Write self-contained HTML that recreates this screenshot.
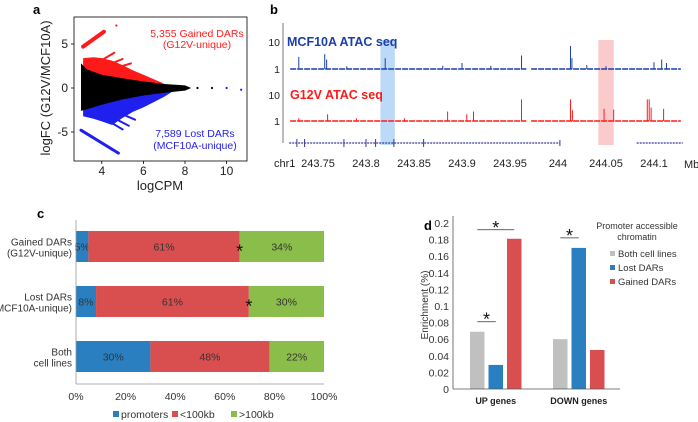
<!DOCTYPE html>
<html><head><meta charset="utf-8"><style>
html,body{margin:0;padding:0;background:#fff}
svg{display:block;font-family:"Liberation Sans",Arial,sans-serif}
</style></head><body>
<svg id="fig" width="698" height="422" viewBox="0 0 698 422" xmlns="http://www.w3.org/2000/svg">
<g id="pa"></g>
<g id="pb"></g>
<g id="pc"></g>
<g id="pd"></g>
</svg>
<script>
// ---------- Panel a data (logCPM, logFC) ----------
const aRedRegion=[[3.1,0.8],[3.1,3.4],[3.6,3.5],[4,3.4],[4.5,3.1],[5,2.6],[5.5,2.0],[6,1.5],[6.5,1.0],[7,0.5]];
const aBlueRegion=[[3.1,-0.8],[3.1,-3.2],[3.6,-3.5],[4,-3.8],[4.5,-4.2],[5,-3.4],[5.5,-2.7],[6,-2.2],[6.5,-1.6],[7,-1.0],[7.4,-0.4]];
const aBlackCloud=[[3,2.8],[3.3,2.1],[4,1.5],[5,1.1],[6,0.75],[7,0.45],[8,0.3],[8.3,0],[8,-0.3],[7,-0.55],[6,-0.85],[5,-1.3],[4,-1.9],[3.3,-2.4],[3,-2.6]];
const aRedStreaks=[[[3.1,4.7],[4.1,6.4]],[[3.3,2.2],[4.6,4.0]],[[3.6,2.0],[5.0,3.3]],[[4,1.8],[5.4,2.8]]];
const aBlueStreaks=[[[3,-4.8],[4.8,-7.4]],[[3.3,-2.3],[5,-4.7]],[[3.6,-2.2],[5.3,-4.3]],[[4,-2],[5.6,-3.6]]];
const aOutliers=[[8.6,0],[9.3,0],[10,0],[10.7,-0.2],[4.7,7.1]];
const aXTicks=[4,6,8,10];
const aYTicks=[5,0,-5];
// ---------- Panel b data ----------
const bXTicks=[243.75,243.8,243.85,243.9,243.95,244,244.05,244.1];
const bBluePeaks=[[243.73,0.45],[243.757,0.55],[243.759,0.35],[243.82,0.4],[243.9,0.22],[243.962,0.5],[244.013,0.85],[244.0145,0.4],[244.1,0.25],[244.108,0.35],[244.113,0.22],[244.05,0.1],[243.78,0.1],[243.88,0.12],[243.93,0.12],[244.03,0.15]];
const bRedPeaks=[[243.76,0.25],[243.885,0.35],[243.905,0.25],[243.912,0.35],[243.962,0.8],[244.013,0.8],[244.015,0.4],[244.048,0.45],[244.058,0.42],[244.093,0.8],[244.095,0.8],[244.097,0.5],[244.11,0.45],[243.73,0.1],[243.79,0.1],[243.84,0.1]];
const bGene1=[243.72,244.002];
const bGene1Exons=[243.728,243.736,243.777,243.8,243.81,243.829,243.86];
const bGene2=[244.082,244.13];
const bHighlights=[[243.815,243.83,"#bcd9f7"],[244.042,244.058,"#fbcaca"]];
// ---------- Panel c data ----------
const cCategories=[["Gained DARs","(G12V-unique)"],["Lost DARs","(MCF10A-unique)"],["Both","cell lines"]];
const cPromoters=[5,8,30];
const cNear=[61,61,48];
const cFar=[34,30,22];
const cXTicks=["0%","20%","40%","60%","80%","100%"];
// ---------- Panel d data ----------
const dGroups=["UP genes","DOWN genes"];
const dBoth=[0.069,0.06];
const dLost=[0.029,0.17];
const dGained=[0.181,0.047];
const dYTicks=[0,0.02,0.04,0.06,0.08,0.1,0.12,0.14,0.16,0.18,0.2];

const NS="http://www.w3.org/2000/svg";
function mk(parent,tag,attrs,txt){const e=document.createElementNS(NS,tag);for(const k in attrs)e.setAttribute(k,attrs[k]);if(txt!==undefined)e.textContent=txt;parent.appendChild(e);return e;}

// ===== Panel a =====
(function(){
const g=document.getElementById('pa');
const X=v=>81+(v-3)*20.8, Y=v=>88-v*8.8;
let e=mk(g,'text',{x:33,y:14,'font-size':13,'font-weight':'bold'},'a');


const pts=a=>a.map(p=>X(p[0]).toFixed(1)+','+Y(p[1]).toFixed(1)).join(' ');
e=mk(g,'polygon',{points:pts(aRedRegion),fill:'#ff1a1a'});


e=mk(g,'polygon',{points:pts(aBlueRegion),fill:'#2020ee'});


aRedStreaks.forEach((s,i)=>{const l=mk(g,'polyline',{points:pts(s),stroke:'#ff1a1a','stroke-width':i?2:4,'stroke-linecap':'round',fill:'none'});

});
aBlueStreaks.forEach((s,i)=>{const l=mk(g,'polyline',{points:pts(s),stroke:'#2020ee','stroke-width':i?2:3,'stroke-linecap':'round',fill:'none'});

});
e=mk(g,'polygon',{points:pts(aBlackCloud),fill:'#000'});


aOutliers.forEach(p=>{const c=mk(g,'circle',{cx:X(p[0]),cy:Y(p[1]),r:1.1,fill:p[1]>5?'#ff1a1a':(p[0]>9.5?'#2020ee':'#000')});

});
e=mk(g,'rect',{x:74,y:17,width:173,height:144,fill:'none',stroke:'#000','stroke-width':0.8});


aXTicks.forEach(t=>{mk(g,'line',{x1:X(t),x2:X(t),y1:161,y2:164,stroke:'#000','stroke-width':0.8});
const l=mk(g,'text',{x:X(t),y:175,'font-size':12,'text-anchor':'middle',fill:'#222'},t);

});
aYTicks.forEach(t=>{mk(g,'line',{x1:71,x2:74,y1:Y(t),y2:Y(t),stroke:'#000','stroke-width':0.8});
const l=mk(g,'text',{x:68,y:Y(t)+4,'font-size':12,'text-anchor':'end',fill:'#222'},t);

});
e=mk(g,'text',{x:160,y:190,'font-size':13,'text-anchor':'middle',fill:'#222'},'logCPM');


e=mk(g,'text',{x:0,y:0,'font-size':13,'text-anchor':'middle',fill:'#222',transform:'translate(50,88) rotate(-90)'},'logFC (G12V/MCF10A)');


[['5,355 Gained DARs',197,37,'#ff2020'],['(G12V-unique)',197,48,'#ff2020'],['7,589 Lost DARs',195,137,'#2222ee'],['(MCF10A-unique)',195,149,'#2222ee']].forEach(t=>{
const l=mk(g,'text',{x:t[1],y:t[2],'font-size':10.5,'text-anchor':'middle',fill:t[3]},t[0]);

});
})();

// ===== Panel b =====
(function(){
const g=document.getElementById('pb');
const X=v=>366+(v-243.8)*960;
let e=mk(g,'text',{x:270,y:14,'font-size':13,'font-weight':'bold'},'b');


bHighlights.forEach(h=>{const r=mk(g,'rect',{x:X(h[0]),y:40,width:X(h[1])-X(h[0]),height:105,fill:h[2]});

});
e=mk(g,'line',{x1:283,x2:283,y1:23,y2:143,stroke:'#555','stroke-width':0.8});


[['10',42],['1',69],['10',95],['1',121]].forEach(t=>{const l=mk(g,'text',{x:280,y:t[1]+4,'font-size':10.5,'text-anchor':'end',fill:'#222'},t[0]);

});
function track(base,peaks,color){
[[243.721,243.967],[243.972,244.128]].forEach(s=>{const l=mk(g,'line',{x1:X(s[0]),x2:X(s[1]),y1:base,y2:base,stroke:color,'stroke-width':1.6,'stroke-dasharray':'6 1'});

});
peaks.forEach(p=>{const l=mk(g,'line',{x1:X(p[0]),x2:X(p[0]),y1:base,y2:base-p[1]*27,stroke:color,'stroke-width':1});

});
}
track(69,bBluePeaks,'#1a3fa8');
track(121,bRedPeaks,'#ff1a1a');
e=mk(g,'text',{x:287,y:46,'font-size':12.5,'font-weight':'bold',fill:'#1a3fa8'},'MCF10A ATAC seq');


e=mk(g,'text',{x:290,y:99,'font-size':12.5,'font-weight':'bold',fill:'#ff1a1a'},'G12V ATAC seq');


e=mk(g,'line',{x1:X(bGene1[0]),x2:X(bGene1[1]),y1:143,y2:143,stroke:'#3a3a9a','stroke-width':1.2,'stroke-dasharray':'2 1'});


bGene1Exons.forEach(v=>{const l=mk(g,'line',{x1:X(v),x2:X(v),y1:139,y2:147,stroke:'#3a3a9a','stroke-width':1});

});
mk(g,'line',{x1:X(bGene1[1]),x2:X(bGene1[1]),y1:140,y2:146,stroke:'#3a3a9a','stroke-width':1});
e=mk(g,'line',{x1:X(bGene2[0]),x2:X(bGene2[1]),y1:143,y2:143,stroke:'#5a5ab0','stroke-width':1.4,'stroke-dasharray':'2 1'});


bXTicks.forEach(t=>{const l=mk(g,'text',{x:X(t),y:167,'font-size':11,'text-anchor':'middle',fill:'#222'},String(t));

});
e=mk(g,'text',{x:274,y:167,'font-size':11,fill:'#222'},'chr1');


e=mk(g,'text',{x:684,y:168,'font-size':11,fill:'#222'},'Mb');


})();

// ===== Panel c =====
(function(){
const g=document.getElementById('pc');
const X=v=>76+v*2.48;
const bandY=i=>231+i*55, bh=31;
let e=mk(g,'text',{x:37,y:218,'font-size':13,'font-weight':'bold'},'c');


const cols=['#2a7fc1','#d94f4f','#8bbd4a'];
cCategories.forEach((c,i)=>{
const vals=[cPromoters[i],cNear[i],cFar[i]];
const tot=vals.reduce((a,b)=>a+b,0);
let acc=0;
vals.forEach((v,j)=>{const w=v/tot*100;
const r=mk(g,'rect',{x:X(acc),y:bandY(i),width:X(acc+w)-X(acc),height:bh,fill:cols[j]});


const l=mk(g,'text',{x:X(acc+w/2),y:bandY(i)+bh/2+4,'font-size':10.5,'text-anchor':'middle',fill:'#333'},v+'%');


acc+=w;});
if(i<2){const s=mk(g,'text',{x:X((vals[0]+vals[1])/tot*100),y:bandY(i)+bh/2+11,'font-size':18,'text-anchor':'middle',fill:'#111'},'*');

}
c.forEach((t,k)=>{const l=mk(g,'text',{x:72,y:bandY(i)+bh/2-1+k*11,'font-size':10,'text-anchor':'end',fill:'#333'},t);

});
});
e=mk(g,'line',{x1:76,x2:76,y1:220,y2:384,stroke:'#999','stroke-width':0.8});


e=mk(g,'line',{x1:76,x2:324,y1:384,y2:384,stroke:'#999','stroke-width':0.8});


cXTicks.forEach((t,i)=>{const l=mk(g,'text',{x:X(i*20),y:400,'font-size':10.5,'text-anchor':'middle',fill:'#333'},t);

});
[['promoters',113],['<100kb',172],['>100kb',231]].forEach((t,i)=>{
const r=mk(g,'rect',{x:t[1],y:411,width:6,height:6,fill:cols[i]});


const l=mk(g,'text',{x:t[1]+8,y:418,'font-size':10.5,fill:'#333'},t[0]);

});
})();

// ===== Panel d =====
(function(){
const g=document.getElementById('pd');
const Y=v=>389-v*830;
const gx=[470,553], bw=14.5, step=18.5;
let e=mk(g,'text',{x:424,y:230,'font-size':13,'font-weight':'bold'},'d');


dYTicks.forEach(t=>{const l=mk(g,'text',{x:449,y:Y(t)+4,'font-size':10.5,'text-anchor':'end',fill:'#333'},String(t));

});
const series=[[dBoth,'#c0c0c0','both'],[dLost,'#2a7fc1','lost'],[dGained,'#d94f4f','gained']];
dGroups.forEach((gn,i)=>{
series.forEach((s,j)=>{const r=mk(g,'rect',{x:gx[i]+j*step,y:Y(s[0][i]),width:bw,height:389-Y(s[0][i]),fill:s[1]});

});
const l=mk(g,'text',{x:gx[i]+step+bw/2,y:404,'font-size':9,'font-weight':'bold','text-anchor':'middle',fill:'#222'},gn);


});
e=mk(g,'line',{x1:453,x2:453,y1:216,y2:389,stroke:'#555','stroke-width':0.8});


e=mk(g,'line',{x1:453,x2:620,y1:389,y2:389,stroke:'#555','stroke-width':0.8});


function sig(x1,x2,y){const l=mk(g,'line',{x1:x1,x2:x2,y1:y,y2:y,stroke:'#333','stroke-width':0.8});


const s=mk(g,'text',{x:(x1+x2)/2,y:y+4,'font-size':18,'text-anchor':'middle',fill:'#111'},'*');

}
sig(gx[0]+bw/2,gx[0]+step+bw/2,Y(Math.max(dBoth[0],dLost[0]))-10);
sig(gx[0]+bw/2,gx[0]+2*step+bw/2,Y(dGained[0])-9);
sig(gx[1]+bw/2,gx[1]+step+bw/2,Y(dLost[1])-10);
e=mk(g,'text',{x:0,y:0,'font-size':10,'text-anchor':'middle',fill:'#333',transform:'translate(428,305) rotate(-90)'},'Enrichment (%)');


e=mk(g,'text',{x:637,y:229,'font-size':9,'text-anchor':'middle',fill:'#333'},'Promoter accessible');


mk(g,'text',{x:637,y:240,'font-size':9,'text-anchor':'middle',fill:'#333'},'chromatin');
[['Both cell lines','#c0c0c0'],['Lost DARs','#2a7fc1'],['Gained DARs','#d94f4f']].forEach((t,i)=>{
const r=mk(g,'rect',{x:610,y:251+i*14,width:5,height:5,fill:t[1]});


const l=mk(g,'text',{x:618,y:257+i*14,'font-size':9.5,fill:'#333'},t[0]);

});
})();
</script>
</body></html>
